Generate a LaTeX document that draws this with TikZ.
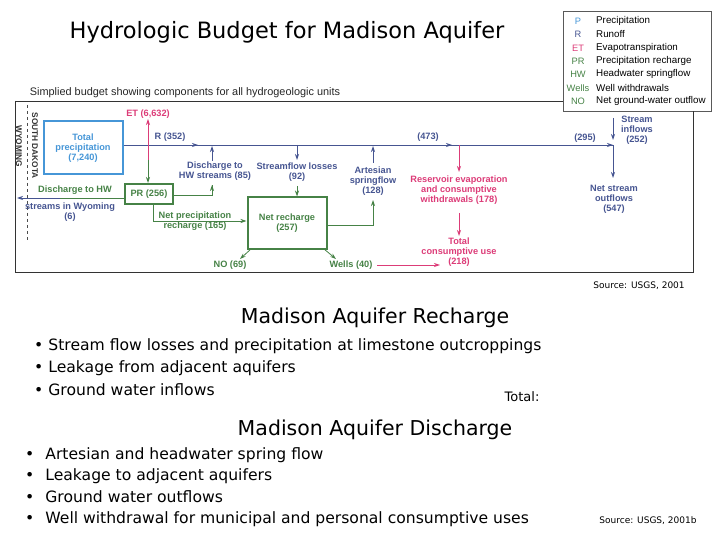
\documentclass[tikz,border=0pt]{standalone}
\usepackage{fontspec}
\setmainfont{DejaVu Sans}
\newfontfamily\arial{Liberation Sans}
\usetikzlibrary{arrows.meta}
\definecolor{pblue}{RGB}{70,150,215}
\definecolor{rblue}{RGB}{70,85,145}
\definecolor{gr}{RGB}{70,130,70}
\definecolor{pk}{RGB}{220,60,120}
\tikzset{
 lab/.style={font=\arial\bfseries\fontsize{9.2}{10}\selectfont,align=center,inner sep=0.5pt},
 leg/.style={font=\arial\fontsize{9.8}{10}\selectfont,anchor=west,inner sep=0pt},
 arr/.style={-{Stealth[length=6pt,width=4pt]},line width=0.8pt},
 bul/.style={font=\fontsize{15.6}{17}\selectfont,anchor=west,inner sep=0pt},
 hd/.style={font=\fontsize{20.5}{22}\selectfont,inner sep=0pt},
}
\begin{document}
\begin{tikzpicture}[x=1pt,y=-1pt]
\useasboundingbox (0,0) rectangle (720,540);
\node[font=\fontsize{22.5}{24}\selectfont] (title) at (287,32) {Hydrologic Budget for Madison Aquifer};
% legend
\node[draw=gray!70!black,line width=0.6pt,minimum width=148pt,minimum height=100pt,anchor=north west] (legend) at (563,11) {};
\foreach \a/\b/\c/\y in {P/Precipitation/pblue/21,R/Runoff/rblue/34,ET/Evapotranspiration/pk/48,PR/Precipitation recharge/gr/61,HW/Headwater springflow/gr/74,Wells/Well withdrawals/gr/88,NO/Net ground-water outflow/gr/101}{
 \node[font=\arial\fontsize{9.3}{10}\selectfont,text=\c] at (578,\y) {\a};
 \node[leg] at (596,\y) {\b};
}
\node[font=\arial\fontsize{10.9}{12}\selectfont,text=gray!30!black] (cap) at (185,93) {Simplied budget showing components for all hydrogeologic units};
\draw[gray!40!black,line width=0.8pt] (15,101) -- (563,101);
\draw[gray!40!black,line width=0.8pt] (15,101) -- (15,272) -- (693,272) -- (693,111);
% state line
\draw[gray!60!black,dashed] (27,105) -- (27,240);
\node[rotate=-90,anchor=west,font=\arial\bfseries\fontsize{8.3}{9}\selectfont,text=gray!40!black] (sd) at (35,109) {SOUTH DAKOTA};
\node[rotate=-90,anchor=west,font=\arial\bfseries\fontsize{8.3}{9}\selectfont,text=gray!40!black] (wy) at (19,122) {WYOMING};
% boxes
\node[draw=pblue,line width=2pt,minimum width=79pt,minimum height=53pt,lab,text=pblue] (tp) at (83,148) {Total\\precipitation\\(7,240)};
\node[draw=gr,line width=2pt,minimum width=48pt,minimum height=20pt,lab,text=gr] (pr) at (149,194) {PR (256)};
\node[draw=gr,line width=2pt,minimum width=79pt,minimum height=51pt,lab,text=gr] (nr) at (287,223) {Net recharge\\(257)};
% labels
\node[lab,text=pk] (et) at (148,114) {ET (6,632)};
\node[lab,text=rblue] (r) at (170,137) {R (352)};
\node[lab,text=rblue] (dhw) at (215,171) {Discharge to\\HW streams (85)};
\node[lab,text=rblue] (sl) at (297,172) {Streamflow losses\\(92)};
\node[lab,text=gr] (dw1) at (75,190) {Discharge to HW};
\node[lab,text=rblue] (dw2) at (70,212) {streams in Wyoming\\(6)};
\node[lab,text=gr] (npr) at (195,221) {Net precipitation\\recharge (165)};
\node[lab,text=gr] (no) at (230,265) {NO (69)};
\node[lab,text=gr] (wl) at (351,265) {Wells (40)};
\node[lab,text=rblue] (art) at (373,181) {Artesian\\springflow\\(128)};
\node[lab,text=rblue] (v473) at (428,137) {(473)};
\node[lab,text=pk] (res) at (459,190) {Reservoir evaporation\\and consumptive\\withdrawals (178)};
\node[lab,text=pk] (tcu) at (459,252) {Total\\consumptive use\\(218)};
\node[lab,text=rblue] (v295) at (585,138) {(295)};
\node[lab,text=rblue] (si) at (637,130) {Stream\\inflows\\(252)};
\node[lab,text=rblue] (nso) at (614,199) {Net stream\\outflows\\(547)};
% coordinates
\coordinate (j) at (613,145);
% connectors
\draw[rblue,line width=0.8pt] (tp.east |- 0,145) -- (j);
\draw[rblue,arr] (180,145) -- (198,145);
\draw[rblue,arr] (420,145) -- (452,145);
\draw[rblue,arr] (580,145) -- (613,145);
\draw[pk,arr] (148,160) -- (et.south);
\draw[gr,arr] (148,160) -- (pr.north -| 148,0);
\draw[gr,line width=0.8pt] (pr.east |- 0,195) -| (212,185);
\draw[gr,arr] (212,195) -- (212,185);
\draw[rblue,arr] (212,161) -- (212,146);
\draw[gr,line width=0.8pt] (pr.west |- 0,198) -- (60,198);
\draw[rblue,arr] (60,198) -- (17,198);
\draw[gr,arr] (153,204) |- (nr.west |- 0,221);
\draw[rblue,arr] (297,145) -- (297,160);
\draw[gr,arr] (297,186) -- (nr.north -| 297,0);
\draw[gr,arr] (251,249) -- (240,259);
\draw[gr,arr] (324,249) -- (336,259);
\draw[pk,arr] (377,265) -- (440,265);
\draw[gr,line width=0.8pt] (nr.east |- 0,225) -| (373,212);
\draw[gr,arr] (373,225) -- (373,200);
\draw[rblue,arr] (373,163) -- (373,146);
\draw[pk,arr] (459,145) -- (459,172);
\draw[pk,arr] (459,213) -- (459,236);
\draw[rblue,arr] (613,118) -- (613,140);
\draw[rblue,arr] (j) -- (613,178);
\node[font=\fontsize{9}{10}\selectfont] (src1) at (639,286) {Source: USGS, 2001};
% lower text
\node[hd] (h1) at (375,318) {Madison Aquifer Recharge};
\node[bul] (b1) at (34,346) {•\hspace{5pt}Stream flow losses and precipitation at limestone outcroppings};
\node[bul] (b2) at (34,368) {•\hspace{5pt}Leakage from adjacent aquifers};
\node[bul] (b3) at (34,390) {•\hspace{5pt}Ground water inflows};
\node[font=\fontsize{13}{14}\selectfont] (tot) at (522,397) {Total:};
\node[hd] (h2) at (375,430) {Madison Aquifer Discharge};
\node[bul] (c1) at (25,455) {•\hspace{11pt}Artesian and headwater spring flow};
\node[bul] (c2) at (25,476) {•\hspace{11pt}Leakage to adjacent aquifers};
\node[bul] (c3) at (25,497) {•\hspace{11pt}Ground water outflows};
\node[bul] (c4) at (25,519) {•\hspace{11pt}Well withdrawal for municipal and personal consumptive uses};
\node[font=\fontsize{9}{10}\selectfont] (src2) at (648,521) {Source: USGS, 2001b};
\end{tikzpicture}
\end{document}
